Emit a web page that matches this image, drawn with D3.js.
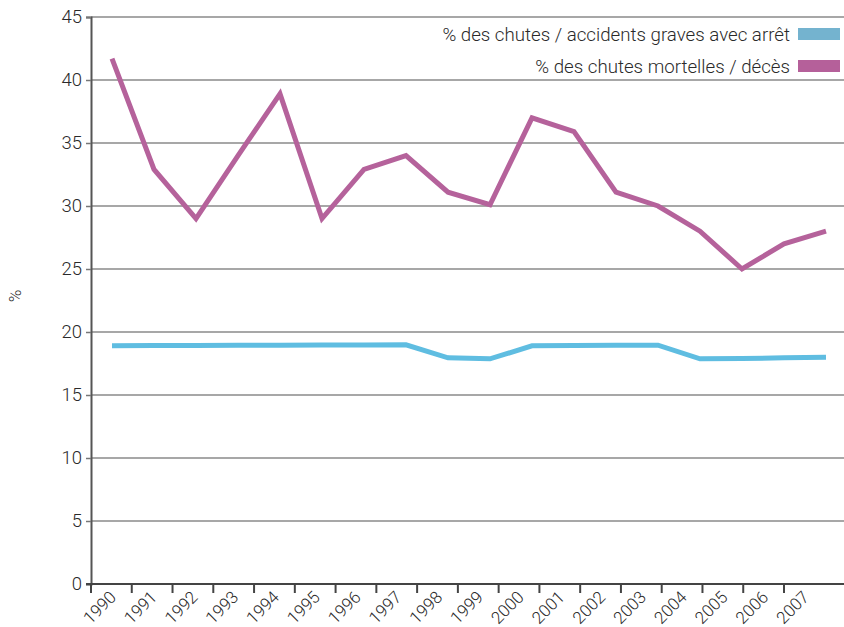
<!DOCTYPE html>
<html><head><meta charset="utf-8">
<script src="https://cdn.jsdelivr.net/npm/d3@7"></script>
<style>
html,body{margin:0;padding:0;background:#fff;}
svg{display:block;font-family:Roboto, "DejaVu Sans", sans-serif;}
</style></head>
<body>
<svg id="chart" width="844" height="627"></svg>
<script>
const years = ["1990","1991","1992","1993","1994","1995","1996","1997","1998","1999","2000","2001","2002","2003","2004","2005","2006","2007"];
const accidents = [18.9,18.92,18.93,18.94,18.95,18.96,18.97,18.98,17.95,17.87,18.9,18.92,18.94,18.95,17.87,17.9,17.95,18.0];
const deces = [41.7,32.9,29.0,34.0,38.9,29.0,32.9,34.0,31.1,30.1,37.0,35.9,31.1,30.0,28.0,25.0,27.0,28.0];
const yTicks = [0,5,10,15,20,25,30,35,40,45];
const seriesNames = ["% des chutes / accidents graves avec arrêt","% des chutes mortelles / décès"];
const lineColors = ["#5fbde1","#b5629b"];
const legendColors = ["#74b3cf","#b5609a"];

const svg = d3.select("#chart");
const mLeft = 91, mRight = 844, mTop = 17, mBottom = 584;

const y = d3.scaleLinear().domain([0,45]).range([mBottom, mTop]);
// data positions (category centers)
const x = d3.scaleBand().domain(years).range([mLeft, mLeft + 42*years.length]);
// tick mark positions
const xt = d3.scalePoint().domain(years).range([mLeft, 784]);

// gridlines
svg.append("g").selectAll("line").data(yTicks.filter(d=>d>0)).join("line")
  .attr("x1", mLeft).attr("x2", mRight)
  .attr("y1", d=>y(d)).attr("y2", d=>y(d))
  .attr("stroke", "#8a8a8a").attr("stroke-width", 1.6);

// y axis
const yAxis = d3.axisLeft(y).tickValues(yTicks).tickSize(5).tickPadding(4);
const gy = svg.append("g").attr("transform", `translate(${mLeft},0)`).call(yAxis);
gy.select(".domain").attr("stroke", "#555").attr("stroke-width", 2);
gy.selectAll(".tick line").attr("stroke", "#777").attr("stroke-width", 1.5);
gy.selectAll(".tick text").attr("font-size", 18.5).attr("fill", "#2a2a2a")
  .attr("font-family", "Roboto, sans-serif").attr("font-weight", 300);

// x axis
svg.append("line").attr("x1", mLeft-5).attr("x2", mRight).attr("y1", mBottom).attr("y2", mBottom)
  .attr("stroke", "#444").attr("stroke-width", 2);
const gx = svg.append("g");
gx.selectAll("line").data(years).join("line")
  .attr("x1", d=>xt(d)).attr("x2", d=>xt(d)).attr("y1", mBottom).attr("y2", mBottom+9)
  .attr("stroke", "#444").attr("stroke-width", 2);
gx.selectAll("text").data(years).join("text")
  .attr("transform", d=>`translate(${xt(d)+22},${mBottom+10}) rotate(-45)`)
  .attr("text-anchor", "end").attr("dy", "0.35em")
  .attr("font-size", 17).attr("fill", "#2a2a2a").attr("font-weight", 300)
  .text(d=>d);

// y label
svg.append("text").attr("transform", `translate(21,296) rotate(-90)`)
  .attr("text-anchor", "middle").attr("font-size", 17).attr("fill", "#2a2a2a").attr("font-weight", 300)
  .text("%");

// lines
const line = d3.line().x((d,i)=>x(years[i]) + x.bandwidth()/2).y(d=>y(d));
[accidents, deces].forEach((s,i)=>{
  svg.append("path").datum(s).attr("d", line)
    .attr("fill", "none").attr("stroke", lineColors[i]).attr("stroke-width", 5)
    .attr("stroke-linejoin", "miter");
});

// legend
const leg = svg.append("g");
seriesNames.forEach((n,i)=>{
  const yy = 34 + i*32;
  leg.append("rect").attr("x", 798).attr("y", yy-6).attr("width", 42).attr("height", 12)
    .attr("fill", legendColors[i]);
  leg.append("text").attr("x", 790).attr("y", yy).attr("dy", "0.35em")
    .attr("text-anchor", "end").attr("font-size", 18.7).attr("fill", "#2a2a2a").attr("font-weight", 300)
    .text(n);
});
</script>
</body></html>
